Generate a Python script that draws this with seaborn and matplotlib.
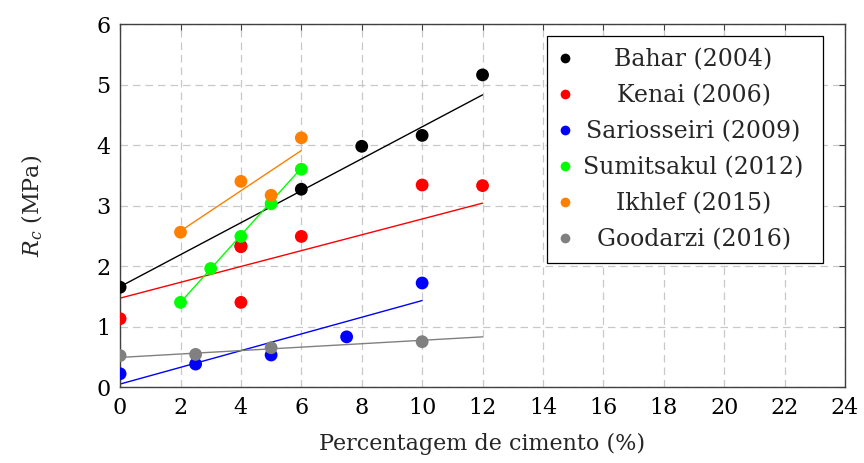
import numpy as np
import pandas as pd
import matplotlib
matplotlib.use("Agg")
import matplotlib.pyplot as plt
import seaborn as sns
from matplotlib.lines import Line2D
from matplotlib.offsetbox import HPacker, DrawingArea

# estudos e cores
estudos = ["Bahar (2004)", "Kenai (2006)", "Sariosseiri (2009)",
           "Sumitsakul (2012)", "Ikhlef (2015)", "Goodarzi (2016)"]
cores = ["#000000", "#ff0000", "#0000ff", "#00ff00", "#ff8000", "#808080"]

# pontos experimentais (cimento %, Rc MPa)
bahar_x = [0, 4, 6, 8, 10, 12]
bahar_y = [1.65, 2.33, 3.27, 3.98, 4.16, 5.16]
kenai_x = [0, 4, 4, 6, 10, 12]
kenai_y = [1.13, 1.40, 2.32, 2.49, 3.34, 3.33]
sario_x = [0, 2.5, 5, 7.5, 10]
sario_y = [0.22, 0.38, 0.53, 0.83, 1.72]
sumit_x = [2, 3, 4, 5, 6]
sumit_y = [1.40, 1.96, 2.49, 3.03, 3.60]
ikhlef_x = [2, 4, 5, 6]
ikhlef_y = [2.56, 3.40, 3.17, 4.12]
goodarzi_x = [0, 2.5, 5, 10]
goodarzi_y = [0.52, 0.54, 0.65, 0.75]

# retas de ajuste (extremos)
ajuste_x_ini = [0, 0, 0, 2, 2, 0]
ajuste_x_fim = [12, 12, 10, 6, 6, 12]
ajuste_y_ini = [1.66, 1.47, 0.05, 1.40, 2.58, 0.49]
ajuste_y_fim = [4.83, 3.04, 1.43, 3.62, 3.91, 0.83]

xs = [bahar_x, kenai_x, sario_x, sumit_x, ikhlef_x, goodarzi_x]
ys = [bahar_y, kenai_y, sario_y, sumit_y, ikhlef_y, goodarzi_y]

pontos = pd.concat([pd.DataFrame({"cimento": x, "rc": y, "estudo": e})
                    for x, y, e in zip(xs, ys, estudos)], ignore_index=True)
retas = pd.DataFrame({
    "cimento": ajuste_x_ini + ajuste_x_fim,
    "rc": ajuste_y_ini + ajuste_y_fim,
    "estudo": estudos + estudos,
})
paleta = dict(zip(estudos, cores))

sns.set_theme(style="whitegrid")
plt.rcParams["font.family"] = ["DejaVu Serif"]
plt.rcParams["mathtext.fontset"] = "dejavuserif"

fig, ax = plt.subplots(figsize=(8.64, 4.63), dpi=100)
fig.subplots_adjust(left=0.139, right=0.978, top=0.948, bottom=0.164)

sns.lineplot(data=retas, x="cimento", y="rc", hue="estudo", palette=paleta,
             hue_order=estudos, linewidth=1.0, legend=False, ax=ax, zorder=2)
sns.scatterplot(data=pontos, x="cimento", y="rc", hue="estudo", palette=paleta,
                hue_order=estudos, s=85, edgecolor="none", legend=False,
                ax=ax, zorder=3)

ax.set_xlim(0, 24)
ax.set_ylim(0, 6)
ax.set_xticks(np.arange(0, 25, 2))
ax.set_yticks(np.arange(0, 7, 1))
ax.grid(True, color="#c8c8c8", linestyle=(0, (6, 4)), linewidth=0.9)
for s in ax.spines.values():
    s.set_color("#404040")
    s.set_linewidth(1.0)
ax.tick_params(direction="in", top=True, right=True, length=4, width=0.8,
               color="#404040", labelsize=16, pad=7, labelcolor="black")
ax.set_xlabel("Percentagem de cimento (%)", fontsize=16, labelpad=10)
ax.set_ylabel("$R_c$ (MPa)", fontsize=16, labelpad=37)

handles = [Line2D([], [], linestyle="none", marker="o", markersize=7,
                  markerfacecolor=c, markeredgecolor="none") for c in cores]
leg = ax.legend(handles, estudos, loc="upper right", bbox_to_anchor=(0.97, 0.967),
                borderaxespad=0, fontsize=17, frameon=True, fancybox=False,
                edgecolor="black", framealpha=1, handlelength=0.5,
                handletextpad=0.2, labelspacing=0.55, borderpad=0.5)
leg.get_frame().set_linewidth(0.9)

# centralizar os textos da legenda (estilo pgfplots)
fig.canvas.draw()
renderer = fig.canvas.get_renderer()
textos = leg.get_texts()
larguras = [t.get_window_extent(renderer).width for t in textos]
lmax = max(larguras)
extra = 5.5  # pt de cada lado
linhas = leg._legend_handle_box.get_children()[0].get_children()
for linha, w in zip(linhas, larguras):
    caixa_h, caixa_t = linha.get_children()
    folga = (lmax - w) / 2 * 72 / fig.dpi
    esq = DrawingArea(folga + extra, 1)
    dir_ = DrawingArea(folga + extra, 1)
    linha._children = [caixa_h, HPacker(children=[esq, caixa_t, dir_], pad=0, sep=0)]

fig.savefig("out.png", dpi=100)
